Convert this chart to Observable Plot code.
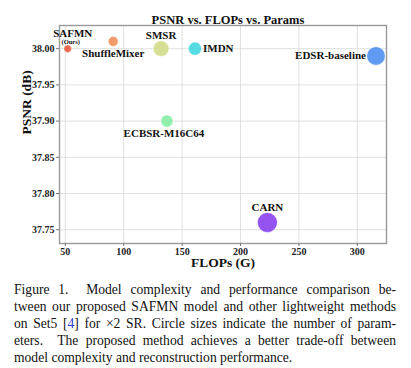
<!DOCTYPE html>
<html>
<head>
<meta charset="utf-8">
<script src="https://cdn.jsdelivr.net/npm/d3@7"></script>
<script src="https://cdn.jsdelivr.net/npm/@observablehq/plot@0.6"></script>
<style>
  body { margin: 0; background: #fff; width: 411px; height: 368px; overflow: hidden; }
  #chart svg { display: block; }
  #caption { font-family: "Liberation Serif", "Times New Roman", Times, "DejaVu Serif", serif; font-size: 13.6px; line-height: 17px; color: #111; margin: 10px 0 0 14px; width: 382px; }
  #caption div { text-align: justify; text-align-last: justify; white-space: nowrap; }
  #caption div.last { text-align-last: left; }
  #caption .ref { color: #2a3fd0; }
</style>
</head>
<body>
<div id="chart"></div>
<div id="caption">
  <div>Figure 1.&nbsp; Model complexity and performance comparison be-</div>
  <div>tween our proposed SAFMN model and other lightweight methods</div>
  <div>on Set5 [<span class="ref">4</span>] for ×2 SR. Circle sizes indicate the number of param-</div>
  <div>eters.&nbsp; The proposed method achieves a better trade-off between</div>
  <div class="last">model complexity and reconstruction performance.</div>
</div>
<script>
const models = ["SAFMN", "ShuffleMixer", "SMSR", "IMDN", "EDSR-baseline", "ECBSR-M16C64", "CARN"];
const flops = [52, 91, 132, 161, 316, 137, 223];
const psnr = [38.00, 38.01, 38.00, 38.00, 37.99, 37.90, 37.76];
const params = [228, 394, 985, 694, 1370, 596, 1592];
const colors = ["#e8553e", "#f0905a", "#d2dc88", "#42d8e0", "#5090f0", "#86eea4", "#8a40f0"];
const xTicks = [50, 100, 150, 200, 250, 300];
const yTicks = [37.75, 37.80, 37.85, 37.90, 37.95, 38.00];

// label placement (style only)
const labelStyle = {
  "SAFMN": {dx: 5, dy: -15, anchor: "middle"},
  "ShuffleMixer": {dx: 0, dy: 12, anchor: "middle"},
  "SMSR": {dx: 0, dy: -13, anchor: "middle"},
  "IMDN": {dx: 8, dy: 0, anchor: "start"},
  "EDSR-baseline": {dx: -10, dy: 0, anchor: "end"},
  "ECBSR-M16C64": {dx: -3, dy: 12, anchor: "middle"},
  "CARN": {dx: 0, dy: -15, anchor: "middle"}
};

const data = models.map((m, i) => ({model: m, flops: flops[i], psnr: psnr[i], params: params[i], color: colors[i]}));

const font = '"Liberation Serif", "Times New Roman", Times, "DejaVu Serif", serif';
const textMarks = data.map(d => {
  const s = labelStyle[d.model];
  return Plot.text([d], {x: "flops", y: "psnr", text: "model", dx: s.dx, dy: s.dy, textAnchor: s.anchor,
    fontWeight: "bold", fontSize: 11, fill: "#111", fontFamily: font});
});

const chart = Plot.plot({
  width: 411,
  height: 271,
  marginLeft: 59,
  marginRight: 25,
  marginTop: 25,
  marginBottom: 28,
  style: {fontFamily: font, background: "#fff"},
  x: {domain: [45, 325]},
  y: {domain: [37.731, 38.032]},
  r: {domain: [0, 1600], range: [0, 10]},
  marks: [
    Plot.gridX(xTicks, {stroke: "#d8d8d8", strokeOpacity: 1, strokeWidth: 0.8}),
    Plot.gridY(yTicks, {stroke: "#d8d8d8", strokeOpacity: 1, strokeWidth: 0.8}),
    Plot.frame({stroke: "#9a9a9a", strokeWidth: 1.4}),
    Plot.axisX(xTicks, {tickSize: 3, tickPadding: 1, fontWeight: "bold", fontSize: 10, label: null, stroke: "#777", fill: "#222", fontFamily: font}),
    Plot.axisY(yTicks, {tickSize: 3, tickPadding: 2, fontWeight: "bold", fontSize: 10, label: null, stroke: "#777", fill: "#222", tickFormat: d => d.toFixed(2), fontFamily: font}),
    Plot.dot(data, {x: "flops", y: "psnr", r: "params", fill: "color", fillOpacity: 0.9, stroke: "white", strokeWidth: 0.5}),
    ...textMarks,
    Plot.text(["(Ours)"], {x: [flops[0]], y: [psnr[0]], dx: 3, dy: -7, fontSize: 6.5, fontWeight: "bold", fill: "#111", fontFamily: font}),
    Plot.text(["PSNR vs. FLOPs vs. Params"], {frameAnchor: "top", lineAnchor: "middle", dx: 5, dy: -6, fontSize: 12.5, fontWeight: "bold", fill: "#111", fontFamily: font}),
    Plot.text(["FLOPs (G)"], {frameAnchor: "bottom", lineAnchor: "middle", dy: 19.5, fontSize: 13.5, fontWeight: "bold", fill: "#111", fontFamily: font}),
    Plot.text(["PSNR (dB)"], {frameAnchor: "left", dx: -33, rotate: -90, fontSize: 13.5, fontWeight: "bold", fill: "#111", fontFamily: font})
  ]
});
document.getElementById("chart").appendChild(chart);
</script>
</body>
</html>
